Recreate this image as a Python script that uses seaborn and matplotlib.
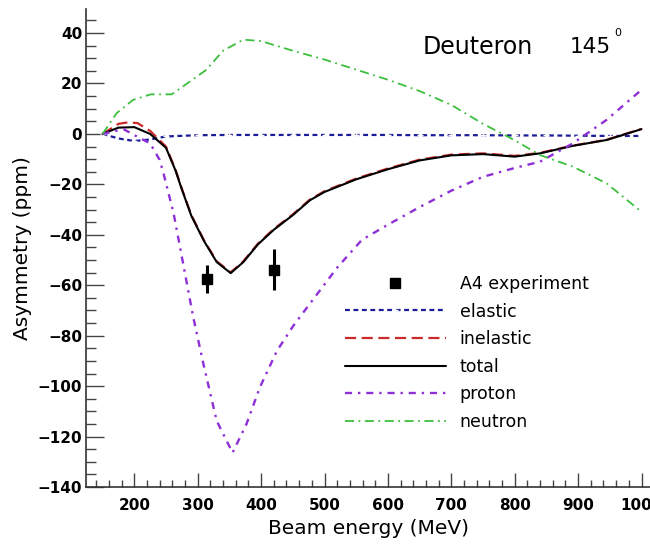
import numpy as np
import pandas as pd
import matplotlib
matplotlib.use("Agg")
import matplotlib.pyplot as plt
from matplotlib.ticker import MultipleLocator
from matplotlib.lines import Line2D
import seaborn as sns

# ---------------- data ----------------
elastic_E = [150, 175, 200, 225, 250, 300, 350, 400, 450, 500, 550, 600, 650, 700, 750, 800, 850, 900, 950, 1000]
elastic_A = [0, -1.8, -2.8, -2.2, -1.0, -0.5, -0.4, -0.4, -0.4, -0.4, -0.4, -0.4, -0.5, -0.5, -0.5, -0.6, -0.6, -0.7, -0.8, -0.8]

total_E = [150, 175, 200, 225, 250, 265, 275, 290, 310, 330, 352, 372, 395, 420, 450, 477, 500, 550, 600, 650, 700, 750, 800, 840, 890, 945, 1000]
total_A = [0, 2.5, 2.7, 0, -5.5, -14.5, -22, -32.5, -42.5, -50.8, -55.2, -50.8, -43.8, -38, -32.2, -26.3, -23, -18, -14, -10.5, -8.5, -8, -9, -7.7, -4.8, -2.4, 1.9]

inel_E = [150, 175, 190, 205, 225, 250, 265, 275, 290, 310, 330, 352, 372, 395, 420, 450, 477, 500, 550, 600, 650, 700, 750, 800, 840, 890, 945, 1000]
inel_A = [0, 4.0, 4.6, 4.3, 1.2, -5.0, -14.2, -21.7, -32.2, -42.2, -50.5, -54.9, -50.5, -43.5, -37.7, -31.9, -26.0, -22.7, -17.7, -13.7, -10.2, -8.2, -7.7, -8.7, -7.5, -4.7, -2.3, 2.0]

proton_E = [150, 183, 209, 225, 240, 246, 262, 277, 293, 309, 330, 355, 377, 398, 425, 451, 477, 520, 559, 600, 650, 700, 750, 800, 840, 892, 945, 1000]
proton_A = [0, 1.9, -1.7, -3.7, -10.3, -15.6, -31.5, -51.4, -72.7, -91.2, -113.8, -126.4, -115, -100.5, -86, -76, -67.3, -53, -42, -36, -29, -22.5, -17, -13.5, -11, -3.7, 5.6, 17.5]

neutron_E = [150, 172, 198, 226, 259, 313, 340, 372, 400, 450, 500, 550, 600, 650, 700, 750, 800, 840, 892, 945, 1000]
neutron_A = [0, 8.2, 13.5, 15.7, 15.7, 25.3, 33, 37.4, 36.8, 33, 29.5, 25.5, 21.5, 17, 11.5, 4, -2.5, -8.4, -13, -19.6, -30.9]

a4_E = [315, 420]
a4_A = [-57.4, -53.8]
a4_err = [5.6, 8.0]

x_ticks = [200, 300, 400, 500, 600, 700, 800, 900, 1000]
y_ticks = [40, 20, 0, -20, -40, -60, -80, -100, -120, -140]

# ---------------- style ----------------
sns.set_style("white")
plt.rcParams['font.family'] = ['DejaVu Sans']
plt.rcParams['text.color'] = 'black'
plt.rcParams['axes.labelcolor'] = 'black'

fig = plt.figure(figsize=(6.5, 5.44), dpi=100)
ax = fig.add_axes([86.5 / 650, 1 - 487 / 544, 563.5 / 650, (487 - 8.6) / 544])

sns.lineplot(x=elastic_E, y=elastic_A, ax=ax, color='#1c1c9a', linewidth=1.6,
             linestyle=(0, (2.2, 1.6)), marker='+', markersize=4, markeredgewidth=1,
             markevery=[0, 2, 4, 5, 6, 7, 8, 9, 10, 11, 12, 13, 14, 15, 16, 17, 18, 19],
             label='elastic', sort=False)
sns.lineplot(x=inel_E, y=inel_A, ax=ax, color='#cc2a2a', linewidth=1.6,
             linestyle=(0, (5, 2.5)), label='inelastic', sort=False)
sns.lineplot(x=total_E, y=total_A, ax=ax, color='black', linewidth=1.5,
             label='total', sort=False)
sns.lineplot(x=proton_E, y=proton_A, ax=ax, color='#8f2fd6', linewidth=1.7,
             linestyle=(0, (3, 2.5, 1, 2.5)), label='proton', sort=False)
sns.lineplot(x=neutron_E, y=neutron_A, ax=ax, color='#3cbf3c', linewidth=1.3,
             linestyle=(0, (5, 2.5, 1, 2.5)), label='neutron', sort=False)

ax.errorbar(a4_E, a4_A, yerr=a4_err, fmt='s', color='black', markersize=7.5,
            elinewidth=2.2, capsize=0, zorder=5)

ax.set_xlim(124.6, 1013.4)
ax.set_ylim(-140, 49.7)
ax.set_xticks(x_ticks)
ax.set_yticks(y_ticks)
ax.xaxis.set_minor_locator(MultipleLocator(20))
ax.yaxis.set_minor_locator(MultipleLocator(5))

for s in ['top', 'right']:
    ax.spines[s].set_visible(False)
for s in ['left', 'bottom']:
    ax.spines[s].set_color('#333333')
    ax.spines[s].set_linewidth(1.2)

ax.tick_params(axis='both', which='both', bottom=True, left=True, top=False, right=False)
ax.tick_params(axis='x', which='major', direction='in', length=10, width=1, color='#444444',
               pad=8, labelsize=11, labelcolor='black')
ax.tick_params(axis='x', which='minor', direction='in', length=5, width=1, color='#444444')
ax.tick_params(axis='y', which='major', direction='in', length=13, width=1, color='#444444',
               pad=3, labelsize=11, labelcolor='black')
ax.tick_params(axis='y', which='minor', direction='in', length=7, width=1, color='#444444')
for lab in ax.get_xticklabels() + ax.get_yticklabels():
    lab.set_fontweight('bold')

ax.set_xlabel('Beam energy (MeV)', fontsize=14.5, labelpad=4)
ax.set_ylabel('Asymmetry (ppm)', fontsize=14.5, labelpad=4)

# legend
handles, labels = ax.get_legend_handles_labels()
hmap = dict(zip(labels, handles))
hmap['A4 experiment'] = Line2D([], [], linestyle='none', marker='s', color='black', markersize=7.5)
order = ['A4 experiment', 'elastic', 'inelastic', 'total', 'proton', 'neutron']
leg = ax.legend([hmap[k] for k in order], order, loc='upper left',
                bbox_to_anchor=(345 / 650, 1 - 275 / 544), bbox_transform=fig.transFigure,
                frameon=False, fontsize=12.5, handlelength=5.8, handletextpad=0.8,
                labelspacing=0.55, borderpad=0, borderaxespad=0)

# annotation
fig.text(423 / 650, 1 - 47 / 544, 'Deuteron', fontsize=17, va='center', ha='left')
fig.text(570 / 650, 1 - 47 / 544, '145', fontsize=15.5, va='center', ha='left')
fig.text(614 / 650, 1 - 33 / 544, '0', fontsize=8, va='center', ha='left')

fig.savefig('out.png', dpi=100)
